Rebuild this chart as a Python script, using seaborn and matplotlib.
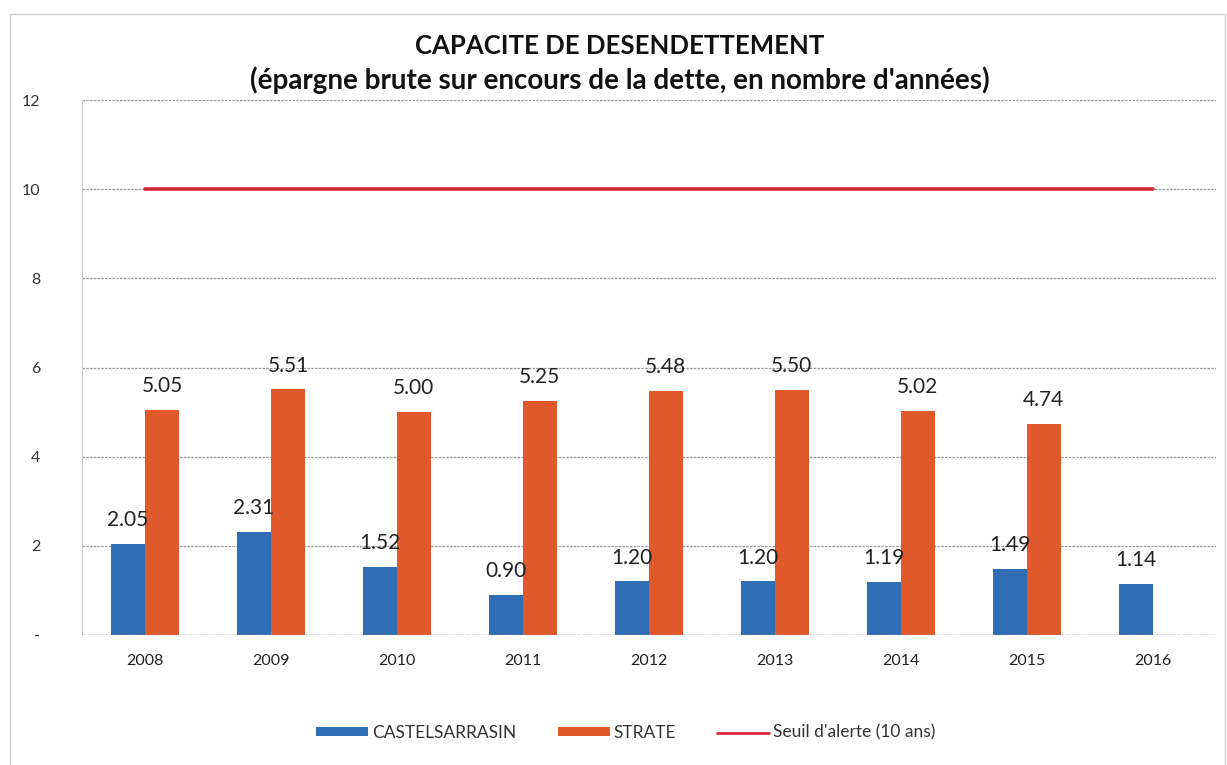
import numpy as np
import pandas as pd
import matplotlib
matplotlib.use("Agg")
import matplotlib.pyplot as plt
import seaborn as sns
from matplotlib.patches import Patch, Rectangle
from matplotlib.lines import Line2D

years = ["2008", "2009", "2010", "2011", "2012", "2013", "2014", "2015", "2016"]
castelsarrasin = [2.05, 2.31, 1.52, 0.90, 1.20, 1.20, 1.19, 1.49, 1.14]
strate = [5.05, 5.51, 5.00, 5.25, 5.48, 5.50, 5.02, 4.74, np.nan]
seuil = [10, 10, 10, 10, 10, 10, 10, 10, 10]
series_names = ["CASTELSARRASIN", "STRATE"]
seuil_name = "Seuil d'alerte (10 ans)"
title_line1 = "CAPACITE DE DESENDETTEMENT"
title_line2 = "(épargne brute sur encours de la dette, en nombre d'années)"
yticks = [0, 2, 4, 6, 8, 10, 12]
ytick_labels = ["-", "2", "4", "6", "8", "10", "12"]

colors = {"CASTELSARRASIN": "#2F6EB5", "STRATE": "#E0592A"}
line_color = "#D9263A"

df = pd.DataFrame({
    "year": years * 2,
    "value": castelsarrasin + strate,
    "serie": [series_names[0]] * len(years) + [series_names[1]] * len(years),
})

sns.set_theme(style="white")
plt.rcParams["font.family"] = ["Lato", "DejaVu Sans"]

fig = plt.figure(figsize=(12.27, 7.65), dpi=100)
ax = fig.add_axes([0.0668, 0.170, 0.924, 0.699])

sns.barplot(data=df, x="year", y="value", hue="serie", order=years,
            hue_order=series_names, palette=colors, width=0.54,
            ax=ax, legend=False, saturation=1, edgecolor="none")

for cont in ax.containers:
    ax.bar_label(cont, fmt="%.2f", padding=10, fontsize=15, color="#222222")

ax.plot(np.arange(len(years)), seuil, color=line_color, lw=2.6, zorder=3)

ax.set_xlim(-0.5, len(years) - 0.5)
ax.set_ylim(0, 12)
ax.set_yticks(yticks)
ax.set_yticklabels(ytick_labels)
ax.set_xlabel("")
ax.set_ylabel("")
ax.tick_params(axis="y", labelsize=11.5, colors="#333333", pad=30, length=0)
ax.tick_params(axis="x", labelsize=11.5, colors="#222222", pad=14, length=0)
ax.grid(axis="y", color="#9A9A9A", linestyle=(0, (2, 1)), lw=0.9)
ax.set_axisbelow(True)
for s in ["top", "right", "bottom"]:
    ax.spines[s].set_visible(False)
ax.spines["left"].set_color("#D0D0D0")
ax.spines["left"].set_linewidth(0.8)
ax.axhline(0, color="#9A9A9A", lw=1.0, linestyle=(0, (3, 1)), zorder=1)

fig.text(0.505, 0.940, title_line1, ha="center", va="center", fontsize=18.5,
         fontweight="bold", color="#111111")
fig.text(0.505, 0.895, title_line2, ha="center", va="center", fontsize=20,
         fontweight="bold", color="#111111")

handles = [
    Patch(facecolor=colors["CASTELSARRASIN"], edgecolor="none"),
    Patch(facecolor=colors["STRATE"], edgecolor="none"),
    Line2D([0], [0], color=line_color, lw=2),
]
leg = fig.legend(handles, series_names + [seuil_name], loc="center",
                 bbox_to_anchor=(0.51, 0.042), ncol=3, frameon=False,
                 fontsize=12.5, handlelength=3.0, handleheight=0.45,
                 handletextpad=0.2, columnspacing=2.4)
for t in leg.get_texts():
    t.set_color("#333333")

fig.patches.append(Rectangle((0.008, -0.01), 0.99, 0.992, transform=fig.transFigure,
                             fill=False, edgecolor="#CFCFCF", lw=1.0))

fig.savefig("out.png", dpi=100, facecolor="white")
